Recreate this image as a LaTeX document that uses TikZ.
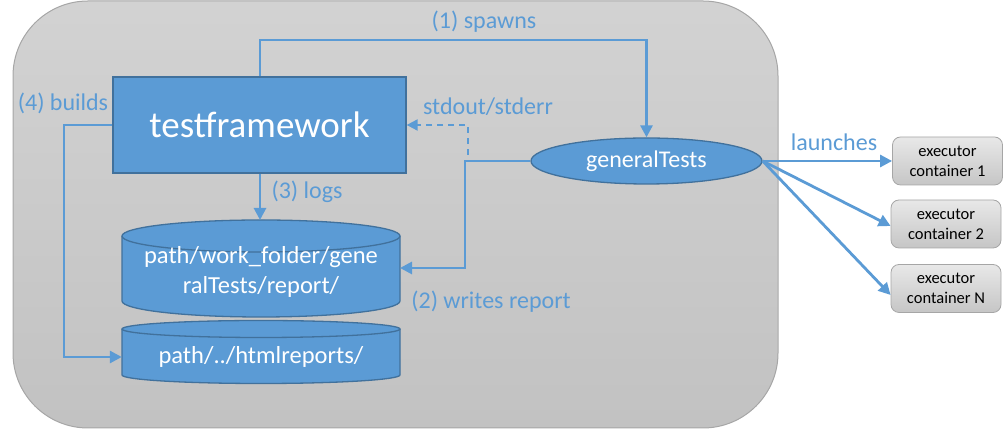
\documentclass[tikz,border=0pt]{standalone}
\usepackage{fontspec}
\setmainfont{Carlito}
\usetikzlibrary{arrows.meta,shapes.geometric,calc}
\definecolor{blu}{HTML}{5B9BD5}
\definecolor{blud}{HTML}{41719C}
\definecolor{frameg}{HTML}{A6A6A6}
\begin{document}
\begin{tikzpicture}[x=1pt,y=1pt,
  conn/.style={draw=blu,line width=2.8pt,-{Triangle[length=12pt,width=12pt]}},
  lbl/.style={text=blu,font=\fontsize{24}{29}\selectfont,inner sep=0pt},
  execbox/.style={draw=frameg,line width=0.8pt,rounded corners=8pt,top color=gray!18,bottom color=gray!45,
    minimum width=110pt,minimum height=48pt,align=center,inner sep=0pt,font=\fontsize{16.5}{20}\selectfont},
  dbtext/.style={text=white,align=center,inner sep=0pt,font=\fontsize{24.5}{30}\selectfont}]
\useasboundingbox (0,0) rectangle (1004,430);
% container
\draw[draw=frameg,line width=1pt,rounded corners=75pt,top color=gray!35,bottom color=gray!48]
  (13,2) rectangle (778,429);
% testframework
\node[draw=blud,fill=blu,line width=1.3pt,minimum width=293pt,minimum height=96pt,inner sep=0pt,
  text=white,font=\fontsize{37}{40}\selectfont] (tf) at (259.5,305) {testframework};
% generalTests
\node[ellipse,draw=blud,fill=blu,line width=1.3pt,minimum width=231pt,minimum height=46pt,inner sep=0pt,
  text=white,font=\fontsize{24}{28}\selectfont] (gt) at (646.5,269) {generalTests};
% cylinder 1
\fill[blu] (122,194) -- (122,129) arc[start angle=180,end angle=360,x radius=139,y radius=16]
  -- (400,194) arc[start angle=0,end angle=180,x radius=139,y radius=16] -- cycle;
\draw[blud,line width=1.3pt] (122,194) -- (122,129) arc[start angle=180,end angle=360,x radius=139,y radius=16]
  -- (400,194);
\draw[blud,line width=1.3pt] (261,194) ellipse[x radius=139,y radius=16];
\node[dbtext,minimum width=278pt,minimum height=97pt] (db1) at (261,158) {path/work\_folder/gene\\ralTests/report/};
\coordinate (db1top) at (261,210);
% cylinder 2
\fill[blu] (122,101) -- (122,55) arc[start angle=180,end angle=360,x radius=139,y radius=8.5]
  -- (400,101) arc[start angle=0,end angle=180,x radius=139,y radius=8.5] -- cycle;
\draw[blud,line width=1.3pt] (122,101) -- (122,55) arc[start angle=180,end angle=360,x radius=139,y radius=8.5]
  -- (400,101);
\draw[blud,line width=1.3pt] (261,101) ellipse[x radius=139,y radius=8.5];
\node[dbtext,minimum width=278pt,minimum height=50pt] (db2) at (261,73) {path/../htmlreports/};
% executor boxes
\node[execbox] (e1) at (947.5,269) {executor\\container 1};
\node[execbox] (e2) at (946,206) {executor\\container 2};
\node[execbox] (eN) at (946,141.5) {executor\\container N};
% connectors
\coordinate (sp1) at (260,390);
\coordinate (sp2) at (646.5,390);
\draw[conn] (tf.north -| sp1) -- (sp1) -- (sp2) -- (gt.north);
\draw[conn] (tf.south -| sp1) -- (db1top -| sp1);
\coordinate (wr) at (465,269);
\draw[conn] (gt.west) -- (wr) -- (wr |- 430,162) -- (400,162);
\coordinate (so1) at (468,275);
\coordinate (so2) at (468,305);
\draw[conn,line width=2pt,dash pattern=on 6pt off 5pt,-{Triangle[length=11pt,width=11pt]}] (so1) -- (so2) -- (tf.east);
\coordinate (b1) at (64,305);
\draw[conn] (tf.west) -- (b1) -- (b1 |- db2.west) -- (db2.west);
\draw[conn] (gt.east) -- (e1.west);
\draw[conn] (gt.east) -- ([yshift=-2pt]e2.west);
\draw[conn] (gt.east) -- ([yshift=-6.5pt]eN.west);
% labels
\node[lbl] (l1) at (484,408) {(1) spawns};
\node[lbl] (l2) at (488,323) {stdout/stderr};
\node[lbl] (l3) at (307,238) {(3) logs};
\node[lbl] (l4) at (491,128) {(2) writes report};
\node[lbl] (l5) at (63,327) {(4) builds};
\node[lbl] (l6) at (834,288) {launches};
\end{tikzpicture}
\end{document}
